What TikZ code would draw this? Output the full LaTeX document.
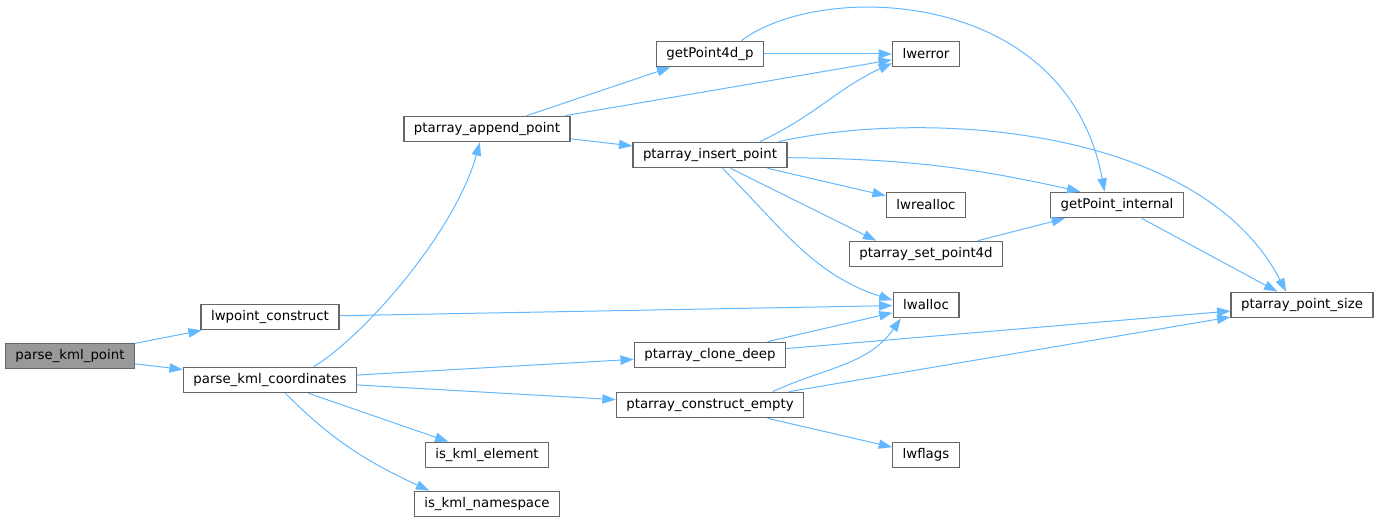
\documentclass[tikz,border=0pt]{standalone}
\usepackage{fontspec}
\setmainfont{DejaVu Sans}
\usetikzlibrary{arrows.meta}
\definecolor{edgeblue}{HTML}{63B8FF}
\definecolor{boxgrey}{HTML}{666666}
\definecolor{rootgrey}{HTML}{999999}

\begin{document}
\begin{tikzpicture}[x=0.75pt, y=0.75pt,
  fn/.style={draw=boxgrey, line width=1pt, fill=white, rectangle, inner xsep=7.5pt, inner ysep=0pt, minimum height=19pt, font=\fontsize{10pt}{12pt}\selectfont},
  root/.style={fn, fill=rootgrey},
  call/.style={draw=edgeblue, line width=0.75pt, -{Triangle[length=10pt,width=7pt]}}]
\useasboundingbox (0,0) rectangle (1380,-523);

\node (pkp) at (70,-356) [root] {parse\_kml\_point};
\node (lwpc) at (270,-317) [fn] {lwpoint\_construct};
\node (pkc) at (270,-380) [fn] {parse\_kml\_coordinates};
\node (pap) at (487,-129) [fn] {ptarray\_append\_point};
\node (gp4d) at (710,-54) [fn] {getPoint4d\_p};
\node (lwerr) at (926,-54) [fn] {lwerror};
\node (pip) at (710,-155) [fn] {ptarray\_insert\_point};
\node (lwre) at (926,-205) [fn] {lwrealloc};
\node (gpi) at (1117,-205) [fn] {getPoint\_internal};
\node (psp4d) at (926,-254) [fn] {ptarray\_set\_point4d};
\node (lwal) at (926,-305) [fn] {lwalloc};
\node (pps) at (1302,-305) [fn] {ptarray\_point\_size};
\node (pcd) at (710,-355) [fn] {ptarray\_clone\_deep};
\node (pce) at (710,-405) [fn] {ptarray\_construct\_empty};
\node (lwfl) at (926,-455) [fn] {lwflags};
\node (kel) at (487,-455) [fn] {is\_kml\_element};
\node (kns) at (487,-504) [fn] {is\_kml\_namespace};

% calls from parse_kml_point
\draw [call] (pkp) -- (lwpc);
\draw [call] (pkp) -- (pkc);
\draw [call] (lwpc) -- (lwal);

% calls from parse_kml_coordinates
\draw [call] (pkc.17) .. controls +(50,30) and +(-25,-90) .. (pap.242);
\draw [call] (pkc) -- (pcd);
\draw [call] (pkc) -- (pce);
\draw [call] (pkc) -- (kel);
\draw [call] (pkc.-41) to[out=-45, in=155] (kns.167);

% ptarray_append_point and getPoint4d_p
\draw [call] (pap) -- (gp4d);
\draw [call] (pap) -- (lwerr);
\draw [call] (pap) -- (pip);
\draw [call] (gp4d) -- (lwerr);
\draw [call] (gp4d.23) .. controls +(79,60) and +(-38,205) .. (gpi.133);

% ptarray_insert_point
\draw [call] (pip.15) to[out=25, in=205] (lwerr.195);
\draw [call] (pip.11) .. controls +(142,32) and +(-87,168) .. (pps.140);
\draw [call] (pip.-2) to[bend left=6] (gpi.160);
\draw [call] (pip) -- (lwre);
\draw [call] (pip.-33) -- (psp4d.165);
\draw [call] (pip.-47) to[out=-45, in=162] (lwal.172);
\draw [call] (psp4d) -- (gpi);
\draw [call] (gpi) -- (pps);

% clone and construct
\draw [call] (pcd) -- (lwal);
\draw [call] (pcd) -- (pps);
\draw [call] (pce.12) to[out=25, in=-125] (lwal.208);
\draw [call] (pce) -- (pps);
\draw [call] (pce) -- (lwfl);
\end{tikzpicture}
\end{document}
